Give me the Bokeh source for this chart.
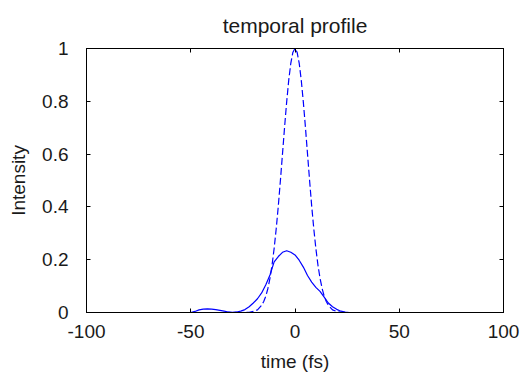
from bokeh.plotting import figure
from bokeh.models import LinearAxis, FixedTicker, Range1d
from bokeh.embed import file_html
from bokeh.resources import INLINE

# ---- data ----
t_dashed = [-100, -50, -30, -25, -22, -20, -18, -16, -15, -14, -13, -12, -11, -10, -9, -8, -7, -6, -5, -4,
            -3, -2, -1, 0, 1, 2, 3, 4, 5, 6, 7, 8, 9, 10, 11, 12, 13, 14, 15, 16, 18, 20, 22, 25, 50, 100]
I_dashed = [0, 0, 0, 0, 0.001, 0.004, 0.010, 0.027, 0.042, 0.062, 0.091, 0.130, 0.180, 0.243, 0.318, 0.404,
            0.500, 0.601, 0.702, 0.797, 0.880, 0.945, 0.986, 1.0, 0.986, 0.945, 0.880, 0.797, 0.702, 0.601,
            0.500, 0.404, 0.318, 0.243, 0.180, 0.130, 0.091, 0.062, 0.042, 0.027, 0.010, 0.004, 0.001, 0, 0, 0]

t_solid = [-100, -50, -48, -46, -44, -42, -40, -38, -36, -34, -32, -30, -28, -26, -24, -22, -20, -18, -16, -14,
           -12, -10, -8, -6, -4, -2, 0, 2, 4, 6, 8, 10, 12, 14, 16, 18, 20, 22, 24, 26, 50, 100]
I_solid = [0, 0, 0.004, 0.010, 0.013, 0.014, 0.013, 0.011, 0.008, 0.005, 0.002, 0.001, 0.002, 0.005, 0.011,
           0.022, 0.036, 0.052, 0.074, 0.105, 0.142, 0.192, 0.212, 0.228, 0.234, 0.228, 0.218, 0.198, 0.172,
           0.140, 0.115, 0.095, 0.080, 0.058, 0.036, 0.022, 0.012, 0.005, 0.002, 0, 0, 0]

x_ticks = [-100, -50, 0, 50, 100]
x_tick_labels = ["-100", "-50", "0", "50", "100"]
y_ticks = [0, 0.2, 0.4, 0.6, 0.8, 1]
y_tick_labels = ["0", "0.2", "0.4", "0.6", "0.8", "1"]

title_text = "temporal profile"
x_label = "time (fs)"
y_label = "Intensity"

FONT = "Liberation Sans"
TXT = "#1a1a1a"

p = figure(width=521, height=374, output_backend="svg", toolbar_location=None,
           x_range=Range1d(-100, 100), y_range=Range1d(0, 1),
           x_axis_type=None, y_axis_type=None,
           min_border_left=86, min_border_right=18, min_border_top=47, min_border_bottom=61)
p.background_fill_color = "white"
p.border_fill_color = "white"
p.outline_line_color = "black"
p.outline_line_width = 1
p.xgrid.visible = False
p.ygrid.visible = False

p.title.text = title_text
p.title.text_font = FONT
p.title.text_font_size = "21px"
p.title.text_font_style = "normal"
p.title.text_color = TXT
p.title.align = "center"
p.title.standoff = 23

def style(ax, show_labels=True):
    ax.major_tick_in = 4
    ax.major_tick_out = 0
    ax.minor_tick_line_color = None
    ax.axis_line_color = "black"
    ax.major_tick_line_color = "black"
    ax.major_label_text_font = FONT
    ax.axis_label_text_font = FONT
    ax.axis_label_text_font_style = "normal"
    ax.axis_label_text_color = TXT
    if show_labels:
        ax.major_label_text_color = TXT
        ax.major_label_text_font_size = "19px"
        ax.axis_label_text_font_size = "19px"
    else:
        ax.major_label_text_color = None
        ax.major_label_text_font_size = "1px"
        ax.major_label_standoff = 0

xb = LinearAxis(ticker=FixedTicker(ticks=x_ticks), axis_label=x_label,
                major_label_overrides={v: s for v, s in zip(x_ticks, x_tick_labels)})
style(xb)
xb.major_label_standoff = 12
xb.axis_label_standoff = 10
p.add_layout(xb, "below")

yl = LinearAxis(ticker=FixedTicker(ticks=y_ticks), axis_label=y_label,
                major_label_overrides={v: s for v, s in zip(y_ticks, y_tick_labels)})
style(yl)
yl.major_label_standoff = 18
yl.axis_label_standoff = 10
p.add_layout(yl, "left")

xt = LinearAxis(ticker=FixedTicker(ticks=x_ticks))
style(xt, show_labels=False)
p.add_layout(xt, "above")

yr = LinearAxis(ticker=FixedTicker(ticks=y_ticks))
style(yr, show_labels=False)
p.add_layout(yr, "right")

p.line(t_solid, I_solid, line_color="#0000ff", line_width=1.2)
p.line(t_dashed, I_dashed, line_color="#0000ff", line_width=1.2, line_dash="7 3")

open("out.html", "w").write(file_html(p, INLINE))
